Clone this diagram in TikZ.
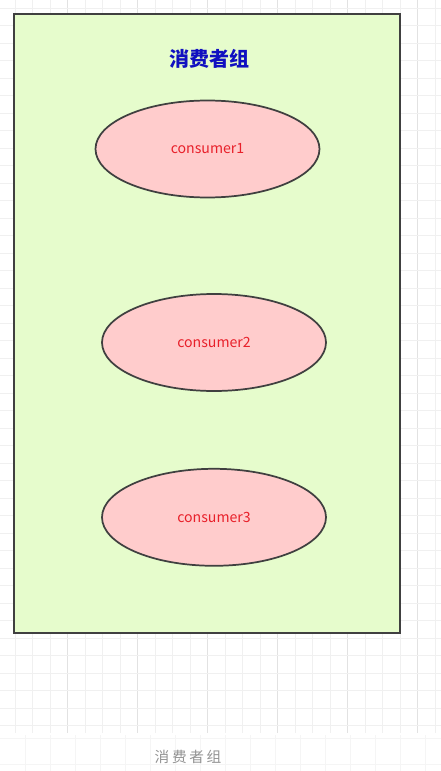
\documentclass[tikz,border=0pt]{standalone}
\usepackage{fontspec}
\setmainfont{Noto Sans CJK SC}
\newfontfamily\cjkfont{Noto Sans CJK SC}
\newfontfamily\cjkspaced{Noto Sans CJK SC}[LetterSpace=18]
\usetikzlibrary{shapes.geometric}
\definecolor{groupfill}{HTML}{E6FCCC}
\definecolor{consfill}{HTML}{FFCCCC}
\definecolor{constext}{HTML}{E8202A}
\definecolor{titleblue}{HTML}{1010C0}
\definecolor{gridminor}{HTML}{F0F0F0}
\definecolor{gridmajor}{HTML}{E2E2E2}
\definecolor{edgegray}{HTML}{404040}
\newlength{\pxu}
\setlength{\pxu}{0.75pt}
\tikzset{
  consumer/.style={ellipse, draw=edgegray, line width=1.3pt, fill=consfill,
    minimum width=224\pxu, minimum height=97\pxu, inner sep=0pt,
    text=constext, font=\cjkfont\fontsize{10.6}{12}\selectfont},
  groupbox/.style={draw=edgegray, line width=1.6pt, fill=groupfill},
}
\begin{document}
\begin{tikzpicture}[x=0.75pt, y=-0.75pt]
\useasboundingbox (0,0) rectangle (441,771);
\fill[white] (0,0) rectangle (441,771);
% grid, top region
\foreach \i in {0,...,25} {
  \pgfmathsetmacro{\gx}{15.2+17.5*\i}
  \draw[gridminor, line width=0.75pt] (\gx,0) -- (\gx,733);
}
\foreach \i in {0,...,5} {
  \pgfmathsetmacro{\gx}{67.7+70*\i}
  \draw[gridmajor, line width=0.75pt] (\gx,0) -- (\gx,733);
}
\foreach \i in {0,...,41} {
  \pgfmathsetmacro{\gy}{8+17.5*\i}
  \draw[gridminor, line width=0.75pt] (0,\gy) -- (441,\gy);
}
% grid, bottom region
\foreach \i in {1,...,17} {
  \draw[gridminor!70, line width=0.75pt] (25*\i,735) -- (25*\i,771);
}
\draw[gridminor!70, line width=0.75pt] (0,738) -- (441,738);
\draw[gridminor!70, line width=0.75pt] (0,764) -- (441,764);
% group box
\draw[groupbox] (14,14) rectangle (400,633);
\node[text=titleblue, font=\cjkfont\bfseries\fontsize{15}{17}\selectfont] (title) at (209,59) {消费者组};
\node[consumer] (c1) at (207.5,149) {consumer1};
\node[consumer] (c2) at (214,342.5) {consumer2};
\node[consumer] (c3) at (214,517.3) {consumer3};
\node[text=gray!85, font=\cjkspaced\fontsize{11}{13}\selectfont] (caption) at (188,757) {消费者组};
\end{tikzpicture}
\end{document}
